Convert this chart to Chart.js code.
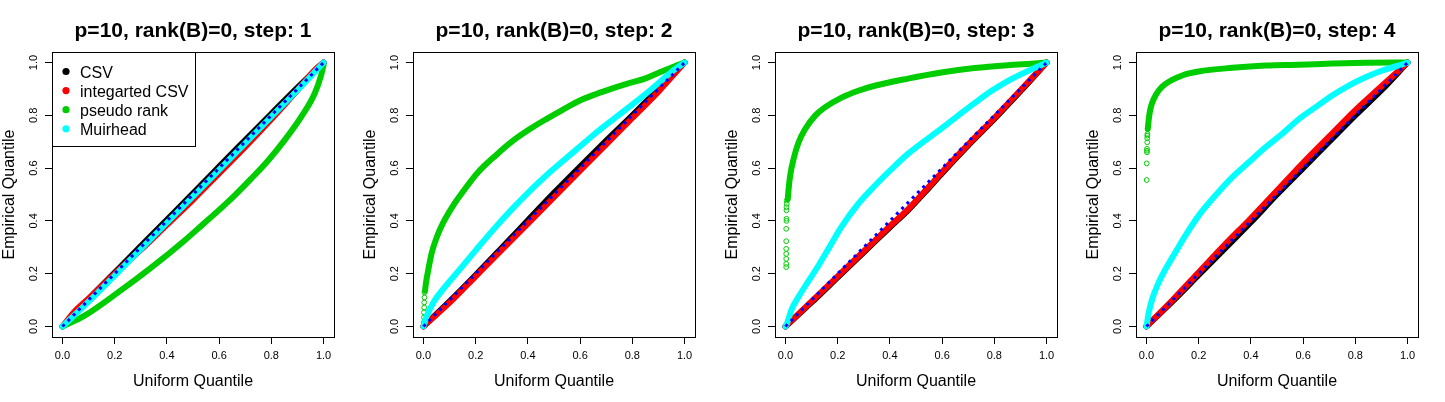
<!DOCTYPE html>
<html>
<head>
<meta charset="utf-8">
<script src="https://cdn.jsdelivr.net/npm/chart.js@4.4.1/dist/chart.umd.min.js"></script>
<style>
  body { margin: 0; background: #fff; overflow: hidden; }
  .panel { position: absolute; top: 0; width: 361px; height: 402px; }
</style>
</head>
<body>
<div class="panel" style="left:0px"><canvas id="c0"></canvas></div>
<div class="panel" style="left:361.25px"><canvas id="c1"></canvas></div>
<div class="panel" style="left:722.5px"><canvas id="c2"></canvas></div>
<div class="panel" style="left:1083.75px"><canvas id="c3"></canvas></div>
<script>
const seriesNames = ['CSV', 'integarted CSV', 'pseudo rank', 'Muirhead'];
const seriesColors = ['#000000', '#ff0000', '#00cd00', '#00ffff'];
const panelTitles = ['p=10, rank(B)=0, step: 1', 'p=10, rank(B)=0, step: 2',
                     'p=10, rank(B)=0, step: 3', 'p=10, rank(B)=0, step: 4'];
const xTicks = [0, 0.2, 0.4, 0.6, 0.8, 1];
const yTicks = [0, 0.2, 0.4, 0.6, 0.8, 1];
const xLabel = 'Uniform Quantile';
const yLabel = 'Empirical Quantile';
const refLine = [[0, 0], [1, 1]];

// step 1
const csv1 = [[0,0],[0.1,0.104],[0.2,0.204],[0.3,0.304],[0.4,0.404],[0.5,0.504],[0.6,0.606],[0.7,0.706],[0.8,0.806],[0.9,0.905],[1,1]];
const icsv1 = [[0,0],[0.05,0.06],[0.1,0.105],[0.2,0.2],[0.3,0.29],[0.4,0.385],[0.5,0.48],[0.6,0.58],[0.7,0.68],[0.8,0.785],[0.9,0.895],[0.97,0.975],[1,1]];
const pseudo1 = [[0,0],[0.085,0.041],[0.213,0.129],[0.341,0.224],[0.468,0.326],[0.532,0.382],[0.596,0.438],[0.659,0.496],[0.723,0.56],[0.787,0.628],[0.851,0.706],[0.915,0.795],[0.966,0.883],[0.991,0.953],[1,0.991]];
const muir1 = [[0,0],[0.1,0.094],[0.2,0.193],[0.3,0.293],[0.4,0.393],[0.5,0.493],[0.6,0.593],[0.7,0.694],[0.8,0.795],[0.9,0.895],[1,1]];
const pseudoTail1 = [];

// step 2
const csv2 = [[0,0],[0.1,0.095],[0.2,0.195],[0.3,0.298],[0.4,0.402],[0.5,0.506],[0.6,0.606],[0.7,0.704],[0.8,0.8],[0.9,0.9],[1,1]];
const icsv2 = [[0,0],[0.1,0.09],[0.2,0.19],[0.3,0.29],[0.4,0.39],[0.5,0.49],[0.6,0.59],[0.7,0.69],[0.8,0.79],[0.9,0.89],[1,1]];
const pseudo2 = [[0.006,0.135],[0.01,0.167],[0.019,0.217],[0.032,0.28],[0.051,0.338],[0.076,0.394],[0.115,0.46],[0.153,0.513],[0.21,0.585],[0.279,0.65],[0.342,0.703],[0.406,0.747],[0.469,0.785],[0.533,0.821],[0.597,0.855],[0.66,0.88],[0.724,0.902],[0.788,0.922],[0.851,0.94],[0.903,0.962],[0.96,0.985],[1,1]];
const muir2 = [[0,0],[0.013,0.04],[0.038,0.091],[0.076,0.142],[0.14,0.217],[0.204,0.293],[0.267,0.366],[0.331,0.436],[0.406,0.512],[0.469,0.571],[0.533,0.626],[0.597,0.68],[0.66,0.733],[0.724,0.783],[0.788,0.832],[0.851,0.881],[0.915,0.935],[0.96,0.972],[1,1]];
const pseudoTail2 = [[0.001,0.015],[0.002,0.034],[0.002,0.053],[0.003,0.072],[0.003,0.091],[0.004,0.11],[0.004,0.129]];

// step 3
const csv3 = [[0,0],[0.1,0.091],[0.2,0.186],[0.3,0.281],[0.4,0.376],[0.47,0.441],[0.55,0.526],[0.6,0.581],[0.7,0.686],[0.8,0.786],[0.9,0.891],[1,1]];
const icsv3 = [[0,0],[0.1,0.095],[0.2,0.19],[0.3,0.285],[0.4,0.38],[0.47,0.445],[0.55,0.53],[0.6,0.585],[0.7,0.69],[0.8,0.79],[0.9,0.895],[1,1]];
const pseudo3 = [[0.009,0.483],[0.011,0.508],[0.018,0.571],[0.031,0.634],[0.05,0.697],[0.075,0.747],[0.113,0.798],[0.151,0.83],[0.215,0.867],[0.279,0.893],[0.342,0.912],[0.469,0.939],[0.597,0.962],[0.724,0.979],[0.851,0.99],[0.967,0.997],[1,1]];
const muir3 = [[0,0],[0.005,0.009],[0.024,0.066],[0.05,0.112],[0.088,0.172],[0.126,0.23],[0.164,0.293],[0.215,0.378],[0.279,0.465],[0.342,0.533],[0.406,0.596],[0.469,0.654],[0.533,0.703],[0.597,0.75],[0.66,0.798],[0.724,0.846],[0.788,0.892],[0.851,0.93],[0.915,0.962],[0.978,0.99],[1,1]];
const pseudoTail3 = [[0.003,0.225],[0.003,0.237],[0.003,0.256],[0.003,0.275],[0.003,0.294],[0.003,0.323],[0.003,0.37],[0.004,0.4],[0.004,0.408],[0.004,0.44],[0.004,0.452],[0.005,0.465],[0.005,0.477]];

// step 4
const csv4 = [[0,0],[0.1,0.095],[0.2,0.195],[0.3,0.295],[0.4,0.395],[0.5,0.5],[0.6,0.6],[0.7,0.7],[0.8,0.8],[0.9,0.895],[1,1]];
const icsv4 = [[0,0],[0.1,0.1],[0.2,0.205],[0.3,0.31],[0.4,0.41],[0.5,0.515],[0.6,0.62],[0.7,0.72],[0.8,0.82],[0.9,0.91],[1,1]];
const pseudo4 = [[0.005,0.748],[0.009,0.786],[0.015,0.824],[0.028,0.862],[0.047,0.894],[0.073,0.919],[0.137,0.951],[0.2,0.966],[0.328,0.98],[0.456,0.989],[0.584,0.992],[0.711,0.996],[0.839,0.999],[1,1]];
const muir4 = [[0,0],[0.009,0.053],[0.022,0.104],[0.047,0.167],[0.073,0.217],[0.111,0.281],[0.149,0.344],[0.2,0.42],[0.264,0.496],[0.328,0.565],[0.392,0.622],[0.456,0.679],[0.52,0.73],[0.584,0.786],[0.648,0.831],[0.711,0.875],[0.775,0.913],[0.839,0.944],[0.903,0.97],[0.967,0.989],[1,1]];
const pseudoTail4 = [[0.001,0.555],[0.001,0.618],[0.002,0.66],[0.002,0.666],[0.002,0.673],[0.003,0.698],[0.003,0.713],[0.003,0.723],[0.004,0.729]];

const panels = [
  [csv1, icsv1, pseudo1, muir1, pseudoTail1],
  [csv2, icsv2, pseudo2, muir2, pseudoTail2],
  [csv3, icsv3, pseudo3, muir3, pseudoTail3],
  [csv4, icsv4, pseudo4, muir4, pseudoTail4]
];

const FONT = '"Liberation Sans", Arial, sans-serif';
const pts = arr => arr.map(([x, y]) => ({ x, y }));

// R-style decorations: box, rotated y labels, titles, legend
const rDecor = {
  id: 'rDecor',
  afterDraw(chart, args, opts) {
    const { ctx, chartArea: a, scales } = chart;
    ctx.save();
    ctx.strokeStyle = '#000';
    ctx.lineWidth = 1;
    ctx.strokeRect(a.left + 0.5, a.top + 0.5, a.right - a.left, a.bottom - a.top);

    ctx.fillStyle = '#000';
    ctx.font = '11px ' + FONT;
    ctx.textAlign = 'center';
    ctx.textBaseline = 'alphabetic';
    yTicks.forEach(v => {
      ctx.save();
      ctx.translate(36.5, scales.y.getPixelForValue(v));
      ctx.rotate(-Math.PI / 2);
      ctx.fillText(v.toFixed(1), 0, 0);
      ctx.restore();
    });

    const cx = (a.left + a.right) / 2;
    ctx.font = 'bold 21px ' + FONT;
    ctx.fillText(opts.title, cx, 36.5);
    ctx.font = '16px ' + FONT;
    ctx.fillText(xLabel, cx, 386);
    ctx.save();
    ctx.translate(13.5, (a.top + a.bottom) / 2);
    ctx.rotate(-Math.PI / 2);
    ctx.fillText(yLabel, 0, 0);
    ctx.restore();

    if (opts.legend) {
      ctx.fillStyle = '#fff';
      ctx.fillRect(a.left, a.top, 143, 94);
      ctx.strokeRect(a.left + 0.5, a.top + 0.5, 143, 94);
      ctx.textAlign = 'left';
      seriesNames.forEach((name, i) => {
        const yy = 71.5 + i * 19.1;
        ctx.fillStyle = seriesColors[i];
        ctx.beginPath();
        ctx.arc(66, yy, 3.6, 0, Math.PI * 2);
        ctx.fill();
        ctx.fillStyle = '#000';
        ctx.fillText(name, 80, yy + 6);
      });
    }
    ctx.restore();
  }
};

function band(data, color, order) {
  return {
    data: pts(data), showLine: true, borderColor: color, backgroundColor: color,
    borderWidth: 6, pointRadius: 0, borderCapStyle: 'round', borderJoinStyle: 'round',
    cubicInterpolationMode: 'monotone', order: order
  };
}

panels.forEach((p, i) => {
  const [csv, icsv, pseudo, muir, tail] = p;
  new Chart(document.getElementById('c' + i), {
    type: 'scatter',
    data: {
      datasets: [
        band(csv, seriesColors[0], 6),
        band(icsv, seriesColors[1], 5),
        band(pseudo, seriesColors[2], 4),
        {
          data: pts(tail), showLine: false, pointRadius: 2.4, pointBorderWidth: 1,
          pointBorderColor: seriesColors[2], pointBackgroundColor: 'rgba(0,0,0,0)', order: 4
        },
        band(muir, seriesColors[3], 3),
        {
          data: pts(refLine), showLine: true, borderColor: '#0000ff', borderWidth: 3,
          borderDash: [3, 4.5], pointRadius: 0, order: 1
        }
      ]
    },
    options: {
      responsive: true,
      maintainAspectRatio: false,
      animation: false,
      devicePixelRatio: 1,
      layout: { padding: { left: 0, top: 52, right: 27, bottom: 0 } },
      plugins: {
        legend: { display: false },
        tooltip: { enabled: false },
        rDecor: { title: panelTitles[i], legend: i === 0 }
      },
      scales: {
        x: {
          type: 'linear', min: -0.04, max: 1.04,
          afterBuildTicks: s => { s.ticks = xTicks.map(v => ({ value: v })); },
          afterFit: s => { s.height = 65; },
          grid: { drawOnChartArea: false, color: '#000', tickColor: '#000', tickLength: 7 },
          border: { display: false },
          ticks: {
            color: '#000', font: { size: 11, family: FONT }, padding: 5,
            maxRotation: 0, autoSkip: false, callback: v => v.toFixed(1)
          }
        },
        y: {
          type: 'linear', min: -0.04, max: 1.04,
          afterBuildTicks: s => { s.ticks = yTicks.map(v => ({ value: v })); },
          afterFit: s => { s.width = 52; },
          grid: { drawOnChartArea: false, color: '#000', tickColor: '#000', tickLength: 7 },
          border: { display: false },
          ticks: { display: false }
        }
      }
    },
    plugins: [rDecor]
  });
});
</script>
</body>
</html>
